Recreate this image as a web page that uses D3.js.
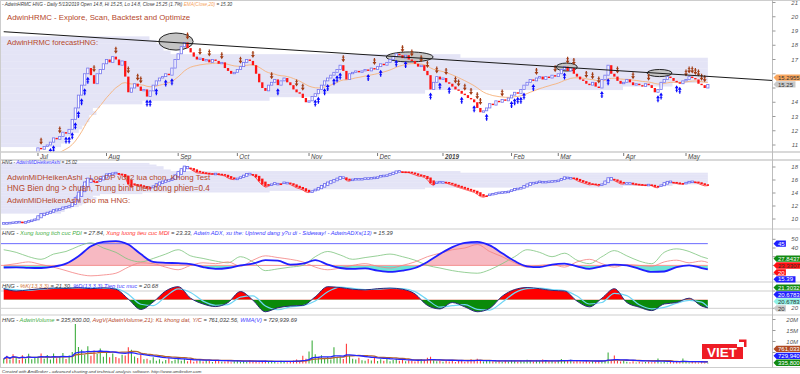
<!DOCTYPE html>
<html>
<head>
<meta charset="utf-8">
<script src="https://cdn.jsdelivr.net/npm/d3@7"></script>
<style>
  body { margin: 0; background: #fff; }
  svg { display: block; }
  text { font-family: "Liberation Sans", Arial, sans-serif; }
</style>
</head>
<body>
<svg id="chart" width="800" height="374"></svg>
<script>
// ---- data (HNG daily, Jun 2018 .. 13 May 2019) ----
const closes = [
  9.4, 9.3, 9.5, 9.4, 9.6, 9.5, 9.4, 9.6, 9.7, 9.8, 10.0,
  10.8, 10.7, 10.9, 11.0, 11.2, 11.5, 11.4, 11.6, 11.9, 11.8, 12.1,
  12.8, 13.6, 14.5, 15.2, 16.0, 16.4, 15.9, 15.3, 16.0, 16.3,
  16.7, 17.0, 16.8, 17.2, 17.0, 16.6, 16.9, 15.8, 14.7, 15.0,
  15.3, 15.1, 14.8, 14.9, 14.4, 14.8, 15.2, 15.5, 15.7, 15.8, 16.0, 15.9,
  16.4, 17.0, 17.4, 17.9, 18.2, 17.8, 17.5, 17.2, 17.0, 17.1, 16.9, 17.0,
  16.8, 17.0, 16.9, 16.7, 16.8, 16.4, 16.2, 16.0, 16.1, 16.3, 16.5,
  16.8, 17.0, 16.9, 16.6, 16.0, 15.4, 15.0, 14.8, 15.2,
  15.4, 15.6, 15.2, 15.5, 15.7, 15.4, 15.2, 14.9, 14.7, 14.6, 14.3, 14.0, 14.1, 14.4,
  14.6, 14.9, 15.2, 15.5, 15.7, 15.9, 16.1, 16.3, 16.6, 16.2, 15.6,
  16.0, 16.1, 16.2, 16.1, 16.2, 16.3, 16.2, 16.4, 16.3, 16.5, 16.7, 16.6, 16.8,
  17.0, 17.2, 17.4, 17.3, 17.1, 17.3, 17.0, 16.9, 16.7, 16.5, 16.6, 16.2, 15.9,
  14.9, 15.4, 15.8, 15.6, 15.7, 15.4,
  15.3, 15.1, 14.9, 14.8, 14.6, 14.5, 14.3, 14.2, 14.0,
  13.6, 13.3, 13.4, 13.6, 13.9, 13.8, 14.1, 14.0, 14.2, 14.1, 14.3,
  14.5, 14.7, 14.6, 14.9, 15.2, 15.4, 15.6, 15.5, 15.7,
  15.8, 15.6, 15.8, 15.7, 15.9, 15.8, 16.0, 16.3, 16.5, 16.2, 16.4, 16.0, 15.8,
  15.6, 15.5, 15.3, 15.2, 15.4, 15.1, 15.0, 15.6, 15.9, 16.6, 16.0, 15.8,
  15.5, 15.3, 15.4, 15.6, 15.4, 15.2, 15.3, 15.2, 15.1, 15.3, 15.2, 15.0,
  14.7, 14.9, 15.4, 15.6, 15.8, 15.7, 15.5, 15.4, 15.3, 15.5, 15.6,
  15.8, 15.7, 15.6, 15.3, 15.2, 15.0, 15.25
];
// volume, millions of shares
const volumes = [
  2.1, 3.5, 1.8, 4.2, 2.5, 1.6, 3.8, 2.0, 4.4, 1.9, 2.8,
  3.2, 4.5, 2.2, 3.9, 1.8, 4.6, 2.4, 3.3, 4.8, 2.0, 3.6,
  5.2, 18.0, 7.5, 6.2, 4.1, 7.8, 3.5, 5.9, 4.3, 6.8,
  3.1, 5.5, 2.8, 4.6, 3.0, 2.4, 4.0, 3.6, 7.4, 6.2, 3.2, 2.5, 4.1, 1.9,
  2.2, 1.5, 2.8, 1.2, 1.9, 0.9, 1.6, 2.4, 1.1, 1.8, 2.6, 1.3, 2.0, 1.0, 1.7,
  0.8, 1.4, 2.1, 0.9, 1.5, 1.2, 0.7, 1.6, 1.1, 0.8,
  0.9, 1.3, 0.6, 1.0, 1.4, 0.7, 1.1, 0.8, 1.5, 0.9, 1.2, 0.6, 1.0, 1.3, 0.7,
  1.1, 0.8, 0.5, 1.2, 0.9, 0.6, 1.0,
  1.4, 1.8, 1.2, 3.5, 2.2, 5.5, 10.4,
  4.2, 2.6, 3.8, 2.0, 3.0, 1.8, 7.4, 2.5, 3.2, 2.0, 9.0, 3.5, 2.2, 1.8, 2.6, 1.5,
  1.2, 2.0, 1.4, 2.8, 1.1, 1.9, 1.3, 2.4, 1.0, 1.6, 2.2, 1.2, 1.8, 1.0, 1.5,
  1.1, 0.9, 1.4, 2.1, 1.7, 2.6, 3.1, 1.5, 1.0, 1.3, 0.8, 1.2, 0.9, 1.6, 0.7,
  1.1, 1.4, 0.8, 1.0, 1.9, 1.3, 2.2, 1.5, 0.9, 1.2, 1.6, 1.0, 0.8, 1.1, 0.7,
  1.3, 0.9, 1.5, 1.1, 0.8, 1.4, 1.0, 1.7, 1.2, 0.9, 1.5, 1.1, 1.8, 1.3, 1.0,
  1.2, 0.9, 1.6, 2.0, 1.4, 1.1, 1.7, 0.9, 1.3, 1.0, 0.8, 1.2, 0.7, 1.1, 0.9, 1.4, 1.0, 1.6,
  5.0, 1.8, 3.6, 1.2, 0.9, 1.5, 0.8, 0.6, 1.0, 0.5, 0.8, 0.4, 0.7, 0.9, 0.6, 0.8,
  2.3, 0.6, 1.0, 0.5, 0.7, 0.6, 0.9, 0.6, 2.3, 0.7, 0.5, 0.8, 0.6, 0.4, 0.6, 0.4, 0.34
];

const monthLabels = ["Jul", "Aug", "Sep", "Oct", "Nov", "Dec", "2019", "Feb", "Mar", "Apr", "May"];
const monthStart = [11, 33, 56, 75, 98, 120, 141, 163, 178, 199, 219];

// indicator readings, one every 4 bars, last one on the final bar
const indStep = 4;
const adx = [17.6, 17.8, 17.2, 17.0, 18.5, 22.0, 30.5, 42, 47, 48, 44, 33, 24, 23, 22.5, 21.5,
  18, 16, 17, 20, 22, 26, 25.5, 21, 22, 26, 21, 17, 16, 16.5, 14, 12.5, 14, 17, 24, 33,
  41, 46, 47, 43, 34, 25, 19, 18, 21, 22, 19, 16, 19, 21, 20, 16, 12.5, 13, 18, 20, 17, 15.39];
const pdi = [38, 35, 30, 27, 33, 36, 42, 46, 40, 35, 27, 24, 28, 33, 38, 31,
  28, 25, 23, 30, 24, 14, 16, 18, 20, 30, 36, 32, 27, 29, 31, 33, 30, 26, 20, 17,
  14, 12, 11, 15, 22, 30, 38, 35, 30, 34, 26, 22, 30, 37, 31, 25, 22, 35, 39, 36, 30, 27.84];
const mdi = [20, 22, 24, 21, 18, 14, 10, 8, 9, 11, 18, 23, 22, 18, 15, 20,
  23, 22, 24, 19, 26, 31, 29, 27, 24, 18, 15, 17, 20, 22, 19, 17, 20, 24, 30, 34,
  38, 40, 44, 36, 30, 23, 18, 20, 21, 18, 24, 27, 22, 18, 21, 20, 19, 24, 26, 23, 25, 23.33];
const stochK = [88, 80, 84, 88, 90, 89, 92, 88, 91, 86, 52, 16, 42, 80, 95, 55,
  35, 26, 40, 78, 48, 8, 22, 28, 30, 60, 95, 92, 86, 84, 88, 90, 86, 70, 30, 18,
  40, 25, 8, 20, 62, 85, 92, 88, 82, 80, 45, 25, 55, 88, 40, 24, 12, 35, 40, 55, 28, 21.3];

const buyBars = [15, 16, 20, 21, 22, 23, 24, 25, 26, 27, 46, 47, 49, 52, 54, 88, 100, 101, 103,
  104, 106, 107, 108, 117, 121, 126, 129, 137, 140, 143, 147, 151, 155, 163, 164, 165, 166,
  167, 170, 180, 192, 194, 210, 211, 216, 217];
const sellBars = [12, 18, 29, 36, 40, 43, 44, 59, 63, 66, 70, 76, 80, 86, 94, 96, 109, 119, 128,
  131, 134, 136, 139, 142, 145, 146, 148, 150, 152, 153, 160, 171, 177, 181, 183, 187, 189,
  191, 197, 202, 207, 219, 220, 221, 222, 223, 224, 225];

// volume at price (background profile), relative volume per 0.25 price bin
const vapPrice = [11.0, 11.25, 11.5, 11.75, 12.0, 12.25, 12.5, 12.75, 13.0, 13.25, 13.5, 13.75,
  14.0, 14.25, 14.5, 14.75, 15.0, 15.25, 15.5, 15.75, 16.0, 16.25, 16.5, 16.75, 17.0, 17.25,
  17.5, 17.75, 18.0, 18.25, 18.5];
const vapVol = [8.5, 9, 9, 10, 11, 11.5, 12, 12.5, 12.5, 13.5, 13, 14, 20, 38, 45, 60, 88, 95,
  100, 100, 100, 100, 100, 100, 100, 65, 24, 23, 23, 22, 21];

// drawn annotations (bar index, price)
const trendBars = [0, 246.6], trendPrices = [18.95, 15.53];
const ovalBars = [55.3, 130.3, 180.7, 210.5], ovalPrices = [18.26, 17.18, 16.47, 16.05];
const ovalHalfBars = [5.5, 7.5, 3.4, 4.0], ovalHalfPrices = [0.6, 0.35, 0.28, 0.25];

// ---- derived series (chart's own indicator formulas) ----
const N = closes.length;
const bars = closes.map((c, i) => ({ i, c, o: i ? closes[i - 1] : c - 0.1, v: volumes[i] }));
let e = closes[0];
const ema = closes.map(c => (e = e + (2 / 21) * (c - e)));
let hO = bars[0].o, hC = (bars[0].o + bars[0].c) / 2;
const ha = bars.map((b, i) => {
  if (i) { hO = (hO + hC) / 2; hC = (b.o + b.c) / 2; }
  return { i, o: hO, c: hC };
});
const avgV = volumes.map((v, i) => d3.mean(volumes.slice(Math.max(0, i - 20), i + 1)));
const wma = volumes.map((v, i) => {
  const s = volumes.slice(Math.max(0, i - 20), i + 1);
  return d3.sum(s, (q, k) => q * (k + 1)) / d3.sum(s, (q, k) => k + 1);
});
const indIdx = adx.map((a, k) => Math.min(k * indStep, N - 1));
const ind = indIdx.map((i, k) => ({ i, adx: adx[k], pdi: pdi[k], mdi: mdi[k], k: stochK[k],
  d: k ? (stochK[k - 1] + stochK[k]) / 2 : stochK[k] }));

// ---- layout ----
const svg = d3.select("#chart");
const AX = 772.5;
const x = d3.scaleLinear().domain([0, 246.6]).range([3.7, 772]);
const yP = d3.scaleLinear().domain([11, 21]).range([145, 2.5]);
const yH = d3.scaleLinear().domain([10, 18]).range([219, 167]);
const yA = d3.scaleLinear().domain([0, 50]).range([282.8, 239.3]);
const yS = d3.scaleLinear().domain([20, 80]).range([308.3, 291]);
const yV = d3.scaleLinear().domain([0, 20]).range([363.5, 319.5]);
const panels = { p: [1, 152], h: [160, 229], a: [229.5, 282], s: [282.5, 315], v: [315.5, 367] };

const defs = svg.append("defs");
Object.entries(panels).forEach(([k, [t, b]]) => {
  defs.append("clipPath").attr("id", "clip-" + k)
    .append("rect").attr("x", 0).attr("y", t).attr("width", AX).attr("height", b - t);
});
const panel = k => svg.append("g").attr("clip-path", `url(#clip-${k})`);

const DARK = "#3a3a3a", BROWN = "#b5472b";

// volume-at-price background in price and heiken ashi panels
const vx = d3.scaleLinear().domain([0, d3.max(vapVol)]).range([0, x(N - 1) - 1]);
[["p", yP], ["h", yH]].forEach(([k, ys]) => {
  panel(k).selectAll("rect").data(vapPrice).join("rect")
    .attr("x", 1).attr("y", (p) => ys(p + 0.125))
    .attr("width", (p, j) => vx(vapVol[j]))
    .attr("height", (p) => ys(p - 0.125) - ys(p + 0.125) + 0.3)
    .attr("fill", "#e4e4f6");
});

// ---- price panel ----
const gP = panel("p");
ovalBars.forEach((b, j) => {
  const cx = x(b), cy = yP(ovalPrices[j]);
  gP.append("ellipse").attr("cx", cx).attr("cy", cy)
    .attr("rx", x(b + ovalHalfBars[j]) - cx).attr("ry", yP(ovalPrices[j] - ovalHalfPrices[j]) - cy)
    .attr("fill", "#c4c4c4").attr("stroke", "#111").attr("stroke-width", 0.9);
});
gP.append("path").datum(ema.map((v, i) => [i, v]))
  .attr("d", d3.line().x(d => x(d[0])).y(d => yP(d[1])))
  .attr("fill", "none").attr("stroke", "#f6b27a").attr("stroke-width", 0.9);

const bw = 2.3;
gP.selectAll("rect.c").data(bars).join("rect").attr("class", "c")
  .attr("x", d => x(d.i) - bw / 2)
  .attr("y", d => yP(Math.max(d.o, d.c)))
  .attr("width", bw)
  .attr("height", d => Math.max(1, Math.abs(yP(d.o) - yP(d.c))))
  .attr("fill", d => d.c >= d.o ? "#fff" : "#ff1414")
  .attr("stroke", d => d.c >= d.o ? "#7474ee" : "none")
  .attr("stroke-width", 0.8);

function arrow(g, cx, tipY, dir, color) {
  // dir 1 = up arrow (tip on top), -1 = down arrow
  const L = 7, hw = 1.9, hh = 3;
  const p = d3.path();
  p.moveTo(cx, tipY); p.lineTo(cx + hw, tipY + dir * hh); p.lineTo(cx + 0.6, tipY + dir * hh);
  p.lineTo(cx + 0.6, tipY + dir * L); p.lineTo(cx - 0.6, tipY + dir * L);
  p.lineTo(cx - 0.6, tipY + dir * hh); p.lineTo(cx - hw, tipY + dir * hh); p.closePath();
  g.append("path").attr("d", p.toString()).attr("fill", color);
  g.append("line").attr("x1", cx - 1.3).attr("x2", cx + 1.3)
    .attr("y1", tipY + dir * 5).attr("y2", tipY + dir * 5).attr("stroke", color).attr("stroke-width", 0.8);
}
buyBars.forEach(i => arrow(gP, x(i), yP(Math.min(bars[i].o, bars[i].c)) + 3, 1, "#0a0aff"));
sellBars.forEach(i => arrow(gP, x(i), yP(Math.max(bars[i].o, bars[i].c)) - 3, -1, "#a23c14"));

gP.append("line")
  .attr("x1", x(trendBars[0])).attr("y1", yP(trendPrices[0]))
  .attr("x2", x(trendBars[1])).attr("y2", yP(trendPrices[1]))
  .attr("stroke", "#1a1a1a").attr("stroke-width", 1);

// ---- heiken ashi panel ----
const gH = panel("h");
for (let i = 1; i < N; i++) {
  gH.append("line").attr("x1", x(i - 1)).attr("x2", x(i))
    .attr("y1", yH(ha[i - 1].c)).attr("y2", yH(ha[i].c))
    .attr("stroke", ha[i].c >= ha[i].o ? "#7474ee" : "#ff3030").attr("stroke-width", 0.8);
}
gH.selectAll("rect.h").data(ha).join("rect").attr("class", "h")
  .attr("x", d => x(d.i) - 1.2)
  .attr("y", d => yH(Math.max(d.o, d.c)) - 0.6)
  .attr("width", 2.4)
  .attr("height", d => Math.max(1.6, Math.abs(yH(d.o) - yH(d.c))))
  .attr("fill", d => d.c >= d.o ? "#fff" : "#ff1414")
  .attr("stroke", d => d.c >= d.o ? "#6a6aee" : "none")
  .attr("stroke-width", 0.8);

// ---- ADX panel ----
const gA = panel("a");
const lastX = x(N - 1);
const areaA = d3.area().curve(d3.curveMonotoneX).x(d => x(d.i)).y0(yA(20)).y1(d => yA(d.adx));
// pink fill on strong-trend humps, cyan where ADX stays under 20
const runs = [];
ind.forEach((d, k) => {
  if (d.adx > 20) {
    if (!runs.length || runs[runs.length - 1].end !== k - 1) runs.push({ start: k, end: k, max: d.adx });
    else { runs[runs.length - 1].end = k; runs[runs.length - 1].max = Math.max(runs[runs.length - 1].max, d.adx); }
  }
});
runs.filter(r => r.max > 30).forEach((r, j) => {
  const x0 = x(ind[Math.max(0, r.start - 1)].i), x1 = x(ind[Math.min(ind.length - 1, r.end + 1)].i);
  defs.append("clipPath").attr("id", "pink" + j).append("rect")
    .attr("x", x0).attr("y", 0).attr("width", x1 - x0).attr("height", yA(20));
  gA.append("path").datum(ind).attr("d", areaA).attr("fill", "#f7b9c2").attr("clip-path", `url(#pink${j})`);
});
defs.append("clipPath").attr("id", "below20").append("rect")
  .attr("x", 0).attr("y", yA(20)).attr("width", AX).attr("height", 40);
gA.append("path").datum(ind).attr("d", areaA).attr("fill", "#6fe3d6").attr("clip-path", "url(#below20)");
gA.append("line").attr("x1", 0).attr("x2", lastX).attr("y1", yA(45)).attr("y2", yA(45))
  .attr("stroke", "#6b6bff").attr("stroke-width", 1);
gA.append("line").attr("x1", 0).attr("x2", lastX).attr("y1", yA(20)).attr("y2", yA(20))
  .attr("stroke", "#ff7c7c").attr("stroke-width", 0.8);
const lineA = key => d3.line().curve(d3.curveMonotoneX).x(d => x(d.i)).y(d => yA(d[key]));
gA.append("path").datum(ind).attr("d", lineA("pdi")).attr("fill", "none").attr("stroke", "#7cc47c").attr("stroke-width", 0.8);
gA.append("path").datum(ind).attr("d", lineA("mdi")).attr("fill", "none").attr("stroke", "#f48080").attr("stroke-width", 0.8);
gA.append("path").datum(ind).attr("d", lineA("adx")).attr("fill", "none").attr("stroke", "#1f1fff").attr("stroke-width", 1.8);

// ---- stochastic panel ----
const gS = panel("s");
[80, 20].forEach(v => gS.append("line").attr("x1", 0).attr("x2", AX).attr("y1", yS(v)).attr("y2", yS(v))
  .attr("stroke", "#cfcfcf").attr("stroke-width", 1));
const areaS = d3.area().curve(d3.curveMonotoneX).x(d => x(d.i)).y0(yS(50)).y1(d => yS(d.k));
defs.append("clipPath").attr("id", "s-up").append("rect").attr("x", 0).attr("y", 270).attr("width", AX).attr("height", yS(50) - 270);
defs.append("clipPath").attr("id", "s-dn").append("rect").attr("x", 0).attr("y", yS(50)).attr("width", AX).attr("height", 30);
gS.append("path").datum(ind).attr("d", areaS).attr("fill", "#ff0000").attr("clip-path", "url(#s-up)");
gS.append("path").datum(ind).attr("d", areaS).attr("fill", "#0a8a0a").attr("clip-path", "url(#s-dn)");
const lineS = key => d3.line().curve(d3.curveMonotoneX).x(d => x(d.i)).y(d => yS(d[key]));
gS.append("path").datum(ind).attr("d", lineS("d")).attr("fill", "none").attr("stroke", "#6fd6f6").attr("stroke-width", 1.2);
gS.append("path").datum(ind).attr("d", lineS("k")).attr("fill", "none").attr("stroke", "#2a2a7a").attr("stroke-width", 1);

// ---- volume panel ----
const gV = panel("v");
gV.selectAll("line.vb").data(bars).join("line").attr("class", "vb")
  .attr("x1", d => x(d.i)).attr("x2", d => x(d.i))
  .attr("y1", yV(0)).attr("y2", d => yV(d.v))
  .attr("stroke", d => d.c >= d.o ? "#3fae3f" : "#ff3b3b").attr("stroke-width", 1.1);
gV.append("path").datum(avgV).attr("d", d3.line().x((v, i) => x(i)).y(v => yV(v)))
  .attr("fill", "none").attr("stroke", "#b5652f").attr("stroke-width", 1.3);
gV.append("path").datum(wma).attr("d", d3.line().x((v, i) => x(i)).y(v => yV(v)))
  .attr("fill", "none").attr("stroke", "#2424ff").attr("stroke-width", 1.3);

// ---- frame, separators, axis ----
[0.5, 152, 160, 229, 282, 315, 367.5].forEach(y => svg.append("line")
  .attr("x1", 0).attr("x2", 800).attr("y1", y).attr("y2", y)
  .attr("stroke", "#cdcdcd").attr("stroke-width", y === 152 || y === 160 ? 1.6 : 1.2));
svg.append("line").attr("x1", AX).attr("x2", AX).attr("y1", 0).attr("y2", 367.5).attr("stroke", "#bdbdbd");
svg.append("line").attr("x1", 0.5).attr("x2", 0.5).attr("y1", 0).attr("y2", 367.5).attr("stroke", "#cdcdcd");

// right side value flags, spread apart so they do not overlap
const FH = 6.9;
function placeFlags(ys, list, mode) {
  const items = list.map(f => ({ ...f, y: ys(f.v) })).sort((a, b) => a.y - b.y);
  if (mode === "down") {
    for (let k = 1; k < items.length; k++) items[k].y = Math.max(items[k].y, items[k - 1].y + FH);
  } else {
    for (let k = items.length - 2; k >= 0; k--) items[k].y = Math.min(items[k].y, items[k + 1].y - FH);
  }
  items.forEach(f => { f.w = f.t.length * 3.2 + 3; });
  return items;
}
function drawFlags(items) {
  items.forEach(f => {
    const p = d3.path();
    p.moveTo(AX + 1, f.y); p.lineTo(AX + 4, f.y - FH / 2 + 0.3); p.lineTo(AX + 4 + f.w, f.y - FH / 2 + 0.3);
    p.lineTo(AX + 4 + f.w, f.y + FH / 2 - 0.3); p.lineTo(AX + 4, f.y + FH / 2 - 0.3); p.closePath();
    svg.append("path").attr("d", p.toString()).attr("fill", f.bg);
    svg.append("text").attr("x", AX + 5.5).attr("y", f.y + 2.2).attr("font-size", 6)
      .attr("fill", f.fg).text(f.t);
  });
}
// axis labels are hidden where a wide flag covers them
function axisLabels(ys, vals, fmt, flagItems) {
  vals.forEach(v => {
    const yy = ys(v);
    svg.append("line").attr("x1", AX).attr("x2", AX + 3).attr("y1", yy).attr("y2", yy).attr("stroke", "#999");
    const covered = flagItems.some(f => AX + 4 + f.w > 786 && Math.abs(f.y - yy) < 6.5);
    if (covered) return;
    svg.append("text").attr("x", 798).attr("y", yy + 2).attr("text-anchor", "end")
      .attr("font-size", 6).attr("font-style", "italic").attr("fill", "#555").text(fmt(v));
  });
}
const fP = placeFlags(yP, [{ v: ema[N - 1], t: "15.2955", bg: "#f8a65e", fg: "#333" },
  { v: closes[N - 1], t: "15.25", bg: "#c9c9c9", fg: "#333" }], "up");
const fA = placeFlags(yA, [{ v: 45, t: "45", bg: "#1f1fff", fg: "#fff" },
  { v: pdi[pdi.length - 1], t: "27.8437", bg: "#118a11", fg: "#fff" },
  { v: mdi[mdi.length - 1], t: "23.3307", bg: "#ff1010", fg: "#333" },
  { v: 20, t: "20", bg: "#ff1010", fg: "#fff" },
  { v: adx[adx.length - 1], t: "15.39", bg: "#1f1fff", fg: "#fff" }], "down");
const fS = placeFlags(yS, [{ v: 21.3032, t: "21.3032", bg: "#118a11", fg: "#fff" },
  { v: 20.6783, t: "20.6783", bg: "#1f1fff", fg: "#fff" },
  { v: 20.678, t: "20.6783", bg: "#8ff0e6", fg: "#333" },
  { v: 20, t: "20", bg: "#c9c9c9", fg: "#333" }], "up");
const fV = placeFlags(yV, [{ v: avgV[N - 1], t: "761,033", bg: "#b04a22", fg: "#fff" },
  { v: wma[N - 1], t: "729,940", bg: "#1f1fff", fg: "#fff" },
  { v: volumes[N - 1], t: "335,800", bg: "#118a11", fg: "#fff" }], "up");

axisLabels(yP, d3.range(11, 22), String, fP);
axisLabels(yH, [10, 12, 14, 16, 18], String, []);
axisLabels(yA, [10, 20, 30, 40, 50], String, fA);
axisLabels(yS, [20, 80], String, fS);
axisLabels(yV, [5, 10, 15, 20], v => v + "M", fV);
[fP, fA, fS, fV].forEach(drawFlags);

// date axis
monthStart.forEach((i, j) => {
  svg.append("line").attr("x1", x(i)).attr("x2", x(i)).attr("y1", 153).attr("y2", 156).attr("stroke", "#777");
  svg.append("text").attr("x", x(i) + 2).attr("y", 158.5).attr("font-size", 6.3)
    .attr("font-style", "italic").attr("font-weight", monthLabels[j] === "2019" ? "bold" : "normal")
    .attr("fill", "#444").text(monthLabels[j]);
});

// ---- titles: font size tuned so each line spans the width seen in the picture ----
function title(xx, yy, parts, size, len, italic = true) {
  const t = svg.append("text").attr("x", xx).attr("y", yy).attr("font-size", size)
    .attr("font-style", italic ? "italic" : "normal");
  parts.forEach(([s, c]) => t.append("tspan").attr("fill", c).text(s));
  const w = t.node().getComputedTextLength();
  if (w > 0) t.attr("font-size", (size * len / w).toFixed(2));
  return t;
}
title(2, 6.4, [["- AdwinHRMC HNG - Daily 5/13/2019 Open 14.8, Hi 15.25, Lo 14.8, Close 15.25 (1.7%) ", DARK],
  ["EMA(Close,20)", "#f5a25a"], [" = 15.30", DARK]], 5.2, 230);
title(7, 20, [["AdwinHRMC -  Explore, Scan, Backtest and Optimize", BROWN]], 8.6, 183, false);
title(7, 45.3, [["AdwinHRMC forecastHNG:", BROWN]], 8.6, 91, false);
title(2, 164.2, [["HNG - ", DARK], ["AdwinMiDHeikenAshi", "#3b3bff"], [" = 15.02", DARK]], 5.4, 75);
title(7, 180.3, [["AdwinMiDHeikenAshi - Loc DP voi 2 lua chon, Khong Test", BROWN]], 8.2, 203, false);
title(7, 190.5, [["HNG  Bien dng > chuan,  Trung binh bien dong phien=0.4", BROWN]], 8.2, 203, false);
title(7, 203, [["AdwinMiDHeikenAshi cho ma HNG:", BROWN]], 8.2, 123, false);
title(2, 235.3, [["HNG - ", DARK], ["Xung luong tich cuc PDI", "#3fae3f"], [" = 27.84, ", DARK],
  ["Xung luong tieu cuc MDI", "#ff3030"], [" = 23.33, ", DARK],
  ["Adwin ADX, xu the: Uptrend dang y?u di -  Sideway! - AdwinADXs(13)", "#3b3bff"], [" = 15.39", DARK]], 5.4, 391);
title(2, 288.3, [["HNG - ", DARK], ["%K(13,3,3)", "#d2773c"], [" = 21.30, ", DARK],
  ["%D(13,3,3) Tiep tuc muc", "#3b3bff"], [" = 20.68", DARK]], 5.4, 156);
title(2, 322.3, [["HNG - ", DARK], ["AdwinVolume", "#3fae3f"], [" = 335,800.00, ", DARK],
  ["AvgV(AdwinVolume,21): KL khong dat, Y/C", BROWN], [" = 761,032.56, ", DARK],
  ["WMA(V)", "#3b3bff"], [" = 729,939.69", DARK]], 5.4, 295);
title(2, 372.5, [["Created with AmiBroker - advanced charting and technical analysis software. http://www.amibroker.com", DARK]], 5, 200);

// ---- VIET badge ----
const badge = svg.append("g");
badge.append("path").attr("d", "M702,344 L737,344 L737,347 L743,347 L743,359 L702,359 Z")
  .attr("fill", "#ee1c25");
badge.append("path").attr("d", "M739,339.5 L746.5,339.5 L746.5,347 L744,347 L744,342 L739,342 Z")
  .attr("fill", "#ee1c25");
badge.append("text").attr("x", 722).attr("y", 357).attr("text-anchor", "middle")
  .attr("font-size", 13.5).attr("font-weight", "bold").attr("fill", "#fff").text("VIET");
</script>
</body>
</html>
